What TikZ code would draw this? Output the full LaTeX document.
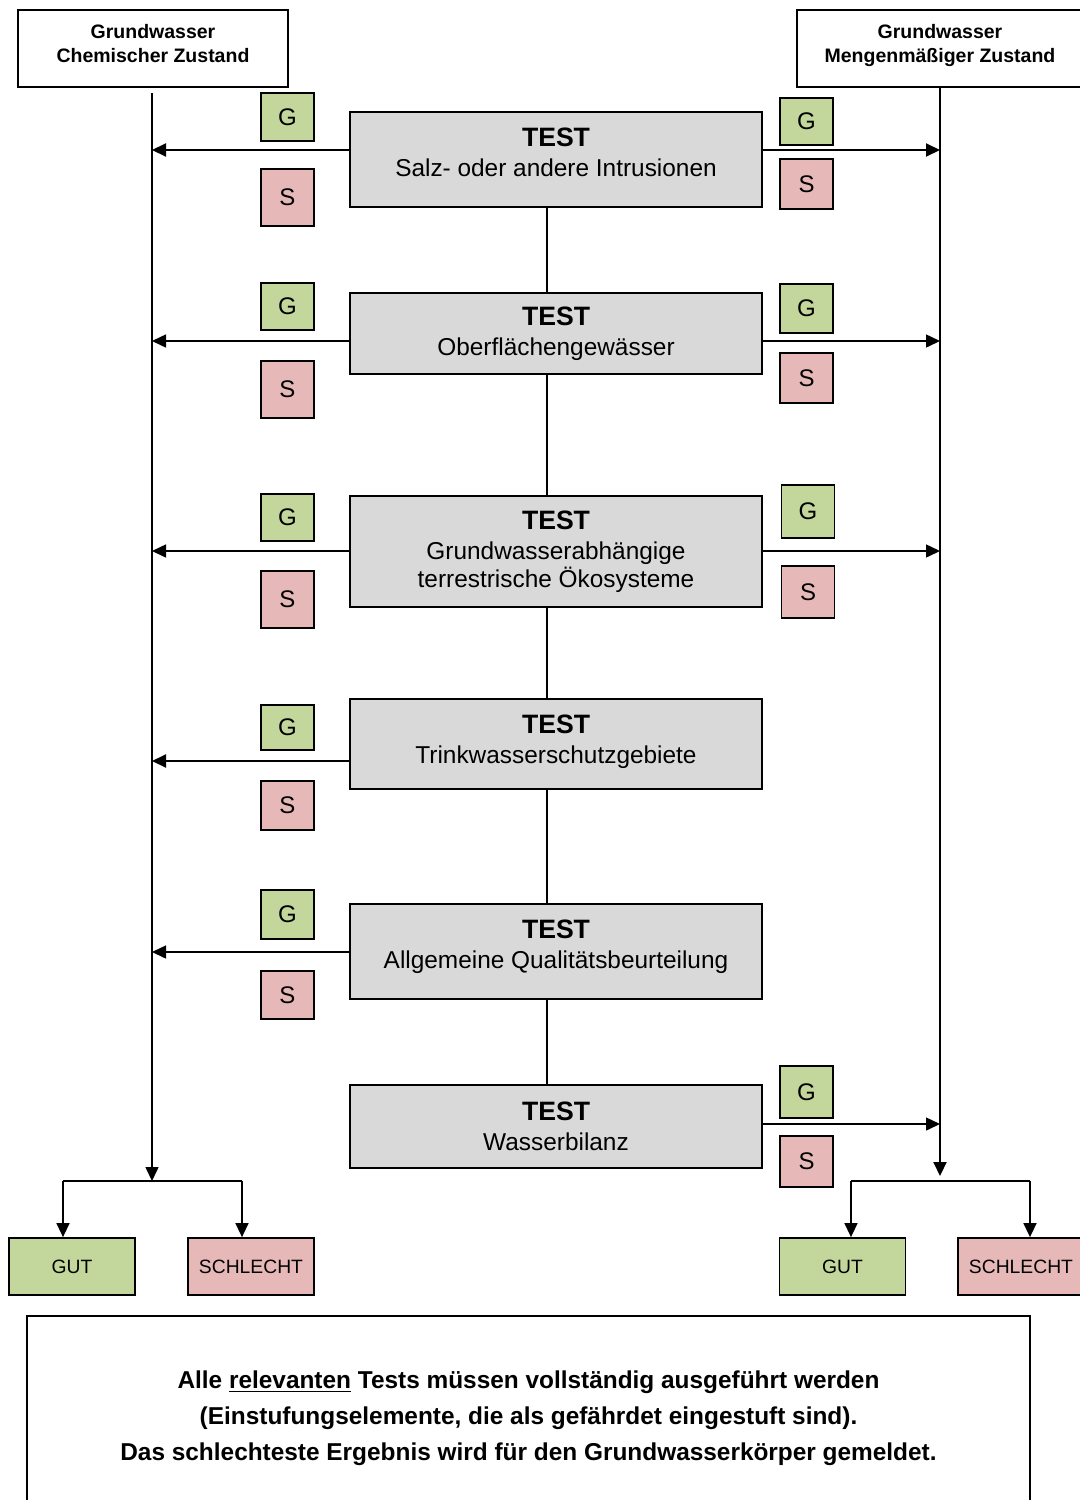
\documentclass[tikz,border=0pt]{standalone}
\usepackage{fontspec}
\setmainfont{Liberation Sans}
\usetikzlibrary{arrows.meta}
\definecolor{gfill}{HTML}{C3D69B}
\definecolor{sfill}{HTML}{E6B9B8}
\definecolor{tfill}{HTML}{D9D9D9}
\tikzset{
  hdr/.style={draw, line width=1pt, fill=white, minimum width=#1, minimum height=38.5pt, inner sep=0pt, align=center, font=\fontsize{9.75}{12}\selectfont\bfseries},
  testbox/.style={draw, line width=1pt, fill=tfill, minimum width=206pt, inner sep=0pt, align=center, font=\fontsize{12.2}{14}\selectfont},
  gbox/.style={draw, line width=0.9pt, fill=gfill, minimum width=26.5pt, inner sep=0pt, font=\fontsize{12}{14}\selectfont},
  sbox/.style={draw, line width=0.9pt, fill=sfill, minimum width=26.5pt, inner sep=0pt, font=\fontsize{12}{14}\selectfont},
  resg/.style={draw, line width=0.9pt, fill=gfill, minimum width=63pt, minimum height=28.5pt, inner sep=0pt, font=\fontsize{9.65}{12}\selectfont},
  ress/.style={draw, line width=0.9pt, fill=sfill, minimum width=63pt, minimum height=28.5pt, inner sep=0pt, font=\fontsize{9.65}{12}\selectfont},
  arr/.style={line width=0.75pt, -{Triangle[length=7pt,width=6.5pt]}},
  arrthick/.style={line width=1pt, -{Triangle[length=7pt,width=6.5pt]}},
  conn/.style={line width=0.75pt},
}
\newcommand{\tst}[1]{{\fontsize{13.3}{15}\selectfont\bfseries TEST}\\[1pt]#1}
\begin{document}
\begin{tikzpicture}[x=0.5pt,y=-0.5pt]
\clip (0,0) rectangle (1080,1500);
\fill[white] (0,0) rectangle (1080,1500);

% headers
\node[hdr=135pt] (hL) at (153,48.5) {Grundwasser\\Chemischer Zustand\\[-6.5pt]};
\node[hdr=143pt] (hR) at (940,48.5) {Grundwasser\\Mengenmäßiger Zustand\\[-6.5pt]};

% test boxes
\node[testbox, minimum height=47.5pt] (t1) at (556,159.5) {\tst{Salz- oder andere Intrusionen}\\[-6.5pt]};
\node[testbox, minimum height=40.5pt] (t2) at (556,333.5) {\tst{Oberflächengewässer}};
\node[testbox, minimum height=55.5pt] (t3) at (556,551.5) {\tst{Grundwasserabhängige\\terrestrische Ökosysteme}};
\node[testbox, minimum height=45pt] (t4) at (556,744) {\tst{Trinkwasserschutzgebiete}\\[-9.5pt]};
\node[testbox, minimum height=47.5pt] (t5) at (556,951.5) {\tst{Allgemeine Qualitätsbeurteilung}\\[-7pt]};
\node[testbox, minimum height=41.5pt] (t6) at (556,1126.5) {\tst{Wasserbilanz}};

% G / S left
\node[gbox, minimum height=24pt] (gl1) at (287.5,117) {G};
\node[sbox, minimum height=28.5pt] (sl1) at (287.5,197.5) {S};
\node[gbox, minimum height=23.5pt] (gl2) at (287.5,306.5) {G};
\node[sbox, minimum height=28.5pt] (sl2) at (287.5,389.5) {S};
\node[gbox, minimum height=23.5pt] (gl3) at (287.5,517.5) {G};
\node[sbox, minimum height=28.5pt] (sl3) at (287.5,599.5) {S};
\node[gbox, minimum height=22.5pt] (gl4) at (287.5,727.5) {G};
\node[sbox, minimum height=24.5pt] (sl4) at (287.5,805.5) {S};
\node[gbox, minimum height=24.5pt] (gl5) at (287.5,914.5) {G};
\node[sbox, minimum height=24pt] (sl5) at (287.5,995) {S};

% G / S right
\node[gbox, minimum height=23.5pt] (gr1) at (806.5,121.5) {G};
\node[sbox, minimum height=25pt] (sr1) at (806.5,184) {S};
\node[gbox, minimum height=24.5pt] (gr2) at (806.5,308.5) {G};
\node[sbox, minimum height=25pt] (sr2) at (806.5,378) {S};
\node[gbox, minimum height=26.5pt] (gr3) at (808,511.5) {G};
\node[sbox, minimum height=26pt] (sr3) at (808,592) {S};
\node[gbox, minimum height=26pt] (gr6) at (806.5,1092) {G};
\node[sbox, minimum height=25.5pt] (sr6) at (806.5,1161.5) {S};

% results
\node[resg] (gutL) at (72,1266.5) {GUT};
\node[ress] (schL) at (251,1266.5) {SCHLECHT};
\node[resg] (gutR) at (842.5,1266.5) {GUT};
\node[ress] (schR) at (1021,1266.5) {SCHLECHT};

% note
\node[draw, line width=1pt, fill=white, minimum width=501.5pt, minimum height=102pt, inner sep=0pt, align=center,
  font=\fontsize{12.2}{18}\selectfont\bfseries] (note) at (528.5,1418)
  {Alle \underline{relevanten} Tests müssen vollständig ausgeführt werden\\
   (Einstufungselemente, die als gefährdet eingestuft sind).\\
   Das schlechteste Ergebnis wird für den Grundwasserkörper gemeldet.};

% coordinates
\coordinate (Ltop) at (152,93);
\coordinate (Lbot) at (152,1181);
\coordinate (Rbot) at (940,1176);
\coordinate (cx) at (547,0);
\coordinate (L1) at (152,150);
\coordinate (L2) at (152,341);
\coordinate (L3) at (152,551);
\coordinate (L4) at (152,761);
\coordinate (L5) at (152,952);
\coordinate (R1) at (940,150);
\coordinate (R2) at (940,341);
\coordinate (R3) at (940,551);
\coordinate (R6) at (940,1124);
\coordinate (bL1) at (63,1181);
\coordinate (bL2) at (242,1181);
\coordinate (bR1) at (851,1181);
\coordinate (bR2) at (1030,1181);

% main verticals
\draw[arr] (Ltop) -- (Lbot);
\draw[line width=1pt, -{Triangle[length=7pt,width=6.5pt]}] (hR.south) -- (Rbot);

% central connectors
\draw[conn] (t1.south -| cx) -- (t2.north -| cx);
\draw[conn] (t2.south -| cx) -- (t3.north -| cx);
\draw[conn] (t3.south -| cx) -- (t4.north -| cx);
\draw[conn] (t4.south -| cx) -- (t5.north -| cx);
\draw[conn] (t5.south -| cx) -- (t6.north -| cx);

% left arrows
\draw[arrthick] (t1.west |- L1) -- (L1);
\draw[arr] (t2.west |- L2) -- (L2);
\draw[arr] (t3.west |- L3) -- (L3);
\draw[arrthick] (t4.west |- L4) -- (L4);
\draw[arr] (t5.west |- L5) -- (L5);

% right arrows
\draw[arrthick] (t1.east |- R1) -- (R1);
\draw[arr] (t2.east |- R2) -- (R2);
\draw[arr] (t3.east |- R3) -- (R3);
\draw[arr] (t6.east |- R6) -- (R6);

% splits
\draw[conn] (bL1) -- (bL2);
\draw[arr] (bL1) -- (gutL.north -| bL1);
\draw[arr] (bL2) -- (schL.north -| bL2);
\draw[conn] (bR1) -- (bR2);
\draw[arr] (bR1) -- (gutR.north -| bR1);
\draw[arr] (bR2) -- (schR.north -| bR2);
\end{tikzpicture}
\end{document}
